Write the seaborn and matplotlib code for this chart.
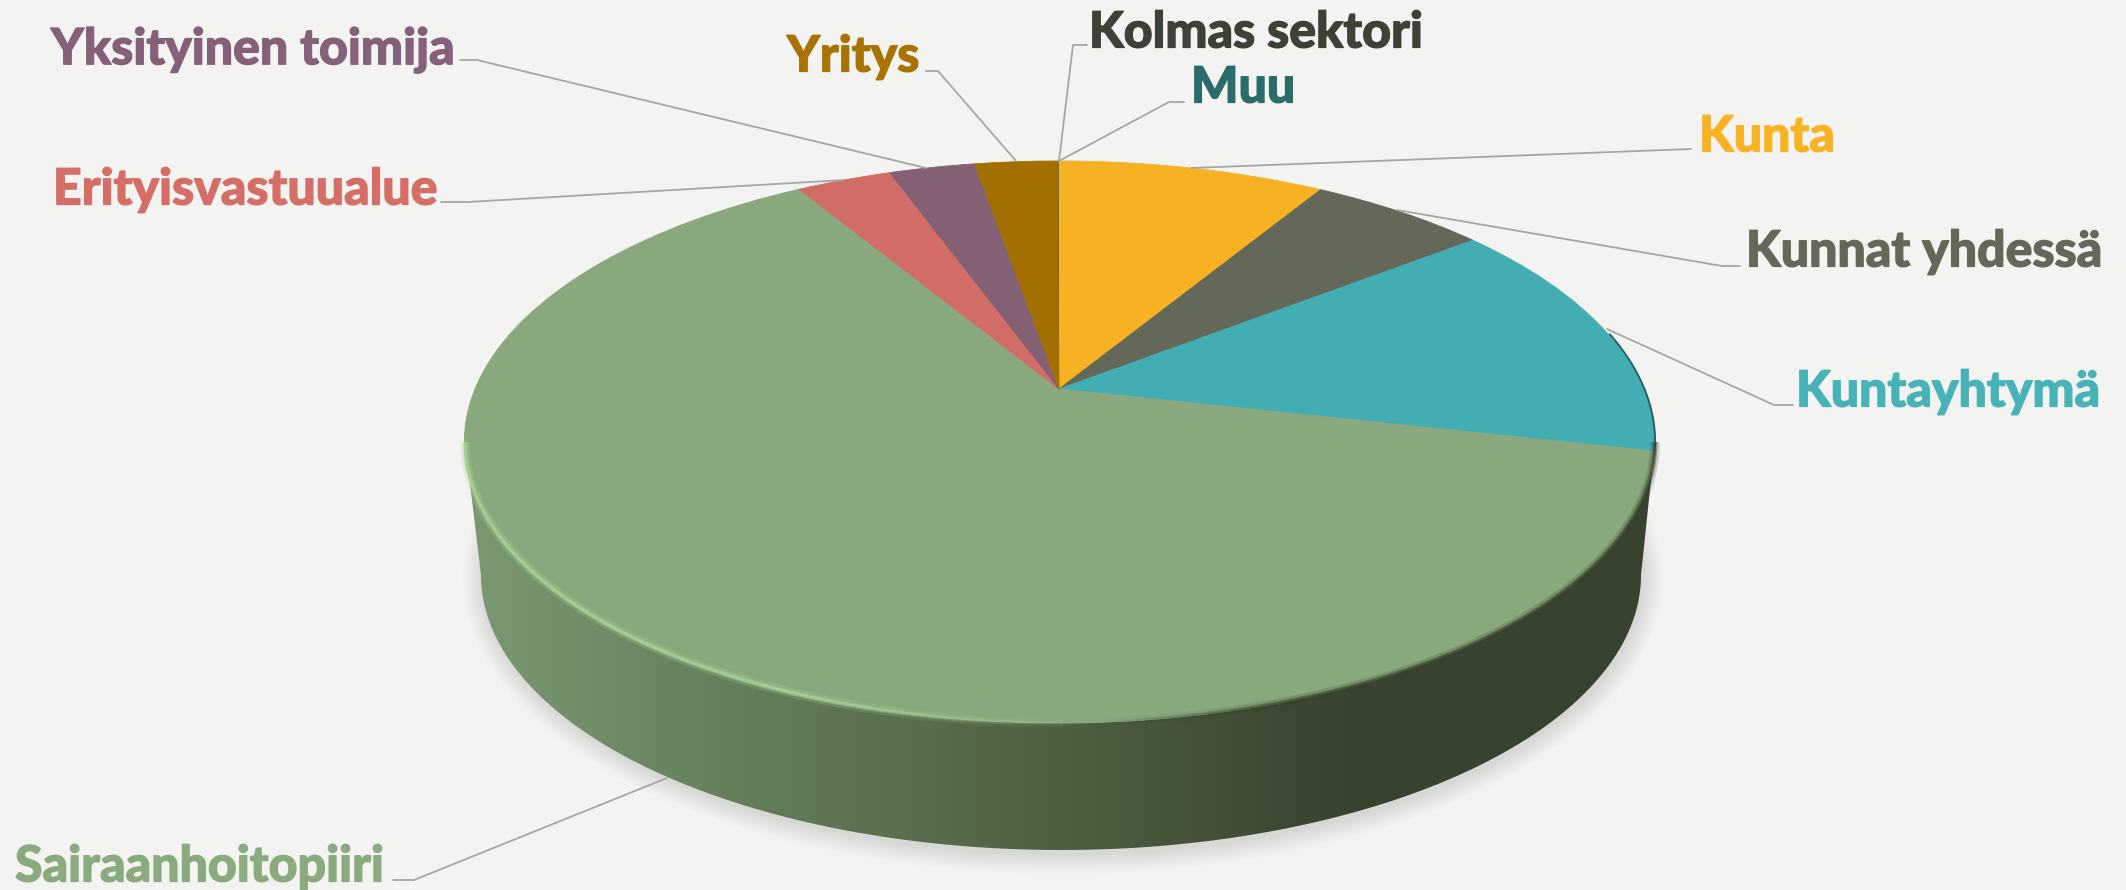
import numpy as np
import matplotlib
matplotlib.use("Agg")
import matplotlib.pyplot as plt
import matplotlib.patheffects as pe
import seaborn as sns
from matplotlib.collections import LineCollection
from matplotlib.patches import PathPatch, Polygon
from matplotlib.path import Path

categories = ['Kunta', 'Kunnat yhdessä', 'Kuntayhtymä', 'Sairaanhoitopiiri',
              'Erityisvastuualue', 'Yksityinen toimija', 'Yritys',
              'Kolmas sektori', 'Muu']
values = [8.7, 5.8, 14.0, 62.8, 3.1, 2.8, 2.7, 0.02, 0.02]
colors = ['#F6B223', '#646859', '#42AEB3', '#8AA87D', '#D16D66',
          '#836073', '#A37000', '#3C4235', '#2B6B6B']
text_colors = ['#F8B324', '#646859', '#48B3B7', '#8AAB7F', '#D66E68',
               '#85607A', '#A87300', '#3C4235', '#2B6B6B']

BG = '#F3F3F1'
W, H = 2126, 890

# label position (left x, middle y), in px of the full picture
label_pos = [(1699, 137), (1746, 252), (1796, 392), (15, 867), (53, 190),
             (51, 50), (787, 57), (1089, 33), (1191, 88)]
# leader lines, px
leaders = [
    [(1691, 149), (1191, 168)],
    [(1740, 266), (1722, 266), (1397, 210)],
    [(1793, 405), (1774, 405), (1607, 329)],
    [(393, 880), (414, 880), (667, 778)],
    [(441, 202), (468, 202), (844, 180)],
    [(460, 60), (477, 60), (926, 168)],
    [(926, 71), (938, 71), (1016, 161)],
    [(1087, 45), (1073, 45), (1059, 161)],
    [(1184, 102), (1169, 102), (1059, 161)],
]

# pie geometry, perspective view of the unit circle
CX, CY = 1059, 389
A, B, K = 584, 271, 0.1886


def project(uv):
    uv = np.asarray(uv)
    d = 1 + K * uv[:, 1]
    return np.column_stack([CX + A * uv[:, 0] / d, CY - B * uv[:, 1] / d])


def ellipse_arc(cx, cy, rx, ry, t0, t1, n=300):
    t = np.radians(np.linspace(t0, t1, n))
    return np.column_stack([cx + rx * np.cos(t), cy + ry * np.sin(t)])


sns.set_theme(style='white', rc={'figure.facecolor': BG, 'axes.facecolor': BG})
plt.rcParams['font.family'] = ['Lato', 'DejaVu Sans']

fig, ax = plt.subplots(figsize=(W / 100, H / 100), dpi=100)
wedges, _ = ax.pie(values, colors=sns.color_palette(colors), startangle=90,
                   counterclock=False, radius=1)
ax.set_aspect('auto')
ax.set_position([0, 0, 1, 1])
ax.set_xlim(0, W)
ax.set_ylim(H, 0)
ax.axis('off')

# soft shadow under the disc
for i in range(14):
    grow = 20 - i * 1.5
    pts = ellipse_arc(1063, 578, 580 + grow, 276 + grow, 0, 360)
    ax.add_patch(Polygon(pts, closed=True, fc='#7c7c7a', ec='none', alpha=0.016, zorder=1))

# side wall, shaded from left to right
top_front = ellipse_arc(1060, 442, 595, 281, 180, 0)
bottom_front = ellipse_arc(1061, 575, 580, 275, 0, 180)
wall = Polygon(np.vstack([top_front, bottom_front]), closed=True, transform=ax.transData,
               fc='none', ec='none')
ax.add_patch(wall)
cmap = sns.blend_palette(['#7B9872', '#627C5A', '#4E6042', '#37432E', '#37432E'], as_cmap=True)
grad = ax.imshow(np.linspace(0, 1, 600)[None, :], cmap=cmap, extent=(465, 1655, 860, 440),
                 aspect='auto', zorder=2)
grad.set_clip_path(wall)
ax.set_xlim(0, W)
ax.set_ylim(H, 0)

# dark sliver of the teal slice on the far right
t = np.radians(np.linspace(78, 102.5, 60))
sliver = project(np.column_stack([np.sin(t), np.cos(t)]))
ax.plot(sliver[:, 0] + 1, sliver[:, 1], color='#245F66', lw=2, zorder=2.5)

# top face: the wedges from the pie, pushed through the perspective
for w, val in zip(wedges, values):
    p = w.get_patch_transform().transform_path(w.get_path())
    patch = PathPatch(Path(project(p.vertices), p.codes), fc=w.get_facecolor(),
                      ec=w.get_facecolor(), lw=0.6 if val > 1 else 0, zorder=3)
    w.remove()
    ax.add_patch(patch)

# bevel on the front edge: light on the left, dark on the right
edge = ellipse_arc(1060, 442, 595, 281, 180, 0, n=400)
segs = np.stack([edge[:-1], edge[1:]], axis=1)
for width, fade in [(7, 0.22), (3.5, 0.45), (2, 0.6)]:
    rgba = []
    for x in edge[:-1, 0]:
        if x < 1100:
            rgba.append((0.68, 0.83, 0.60, fade * min(1, (1100 - x) / 300)))
        else:
            rgba.append((0.22, 0.27, 0.18, fade * min(1, (x - 1100) / 200)))
    ax.add_collection(LineCollection(segs, colors=rgba, linewidths=width, zorder=4))

# leader lines and labels
for pts in leaders:
    xs, ys = zip(*pts)
    ax.plot(xs, ys, color='#A6A6A6', lw=1.3, zorder=5, solid_joinstyle='miter')

for name, col, (x, y) in zip(categories, text_colors, label_pos):
    ax.text(x, y, name, color=col, fontsize=36, fontweight=900, ha='left', va='center',
            zorder=6, path_effects=[pe.withStroke(linewidth=0.9, foreground=col)])

fig.savefig('out.png', dpi=100, facecolor=BG)
